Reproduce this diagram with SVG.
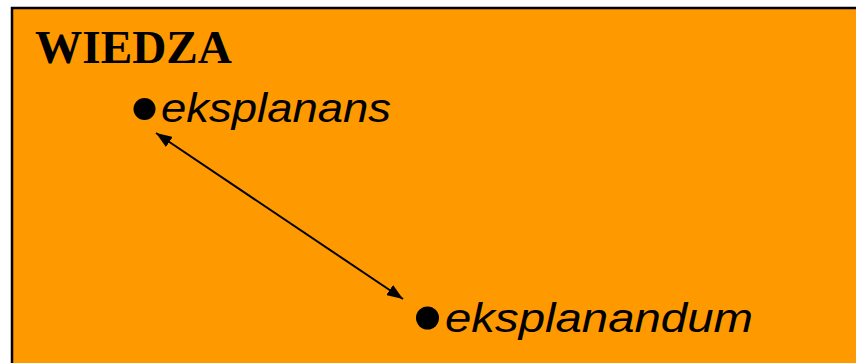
<svg xmlns="http://www.w3.org/2000/svg" width="856" height="363" viewBox="0 0 856 363">
  <defs>
    <style>
      .title { font-family: "Liberation Serif", "Times New Roman", serif; font-weight: bold; font-size: 47px; fill: #000; }
      .item { font-family: "Liberation Sans", Arial, sans-serif; font-style: italic; font-size: 40px; fill: #000; }
      .bullet { fill: #000; }
      .conn { stroke: #000; stroke-width: 2; fill: none; }
    </style>
    <marker id="ah" viewBox="0 0 16 12" refX="16" refY="6" markerWidth="16" markerHeight="12" markerUnits="userSpaceOnUse" orient="auto-start-reverse">
      <path d="M0,0 L16,6 L0,12 Z" fill="#000"/>
    </marker>
  </defs>
  <rect x="0" y="0" width="856" height="363" fill="#FFFFFF"/>
  <rect id="frame" x="12" y="8" width="860" height="370" fill="#FF9900" stroke="#000" stroke-width="2.5"/>
  <g id="title">
    <text class="title" x="35" y="63" textLength="197" lengthAdjust="spacingAndGlyphs">WIEDZA</text>
  </g>
  <g id="eksplanans">
    <circle class="bullet" cx="144.5" cy="109" r="11"/>
    <text class="item" x="161" y="122" textLength="230" lengthAdjust="spacingAndGlyphs">eksplanans</text>
  </g>
  <g id="eksplanandum">
    <circle class="bullet" cx="427.5" cy="318" r="11.5"/>
    <text class="item" x="445" y="332" textLength="308" lengthAdjust="spacingAndGlyphs">eksplanandum</text>
  </g>
  <g id="connectors">
    <line class="conn" x1="156" y1="133" x2="403" y2="299" marker-start="url(#ah)" marker-end="url(#ah)"/>
  </g>
</svg>
